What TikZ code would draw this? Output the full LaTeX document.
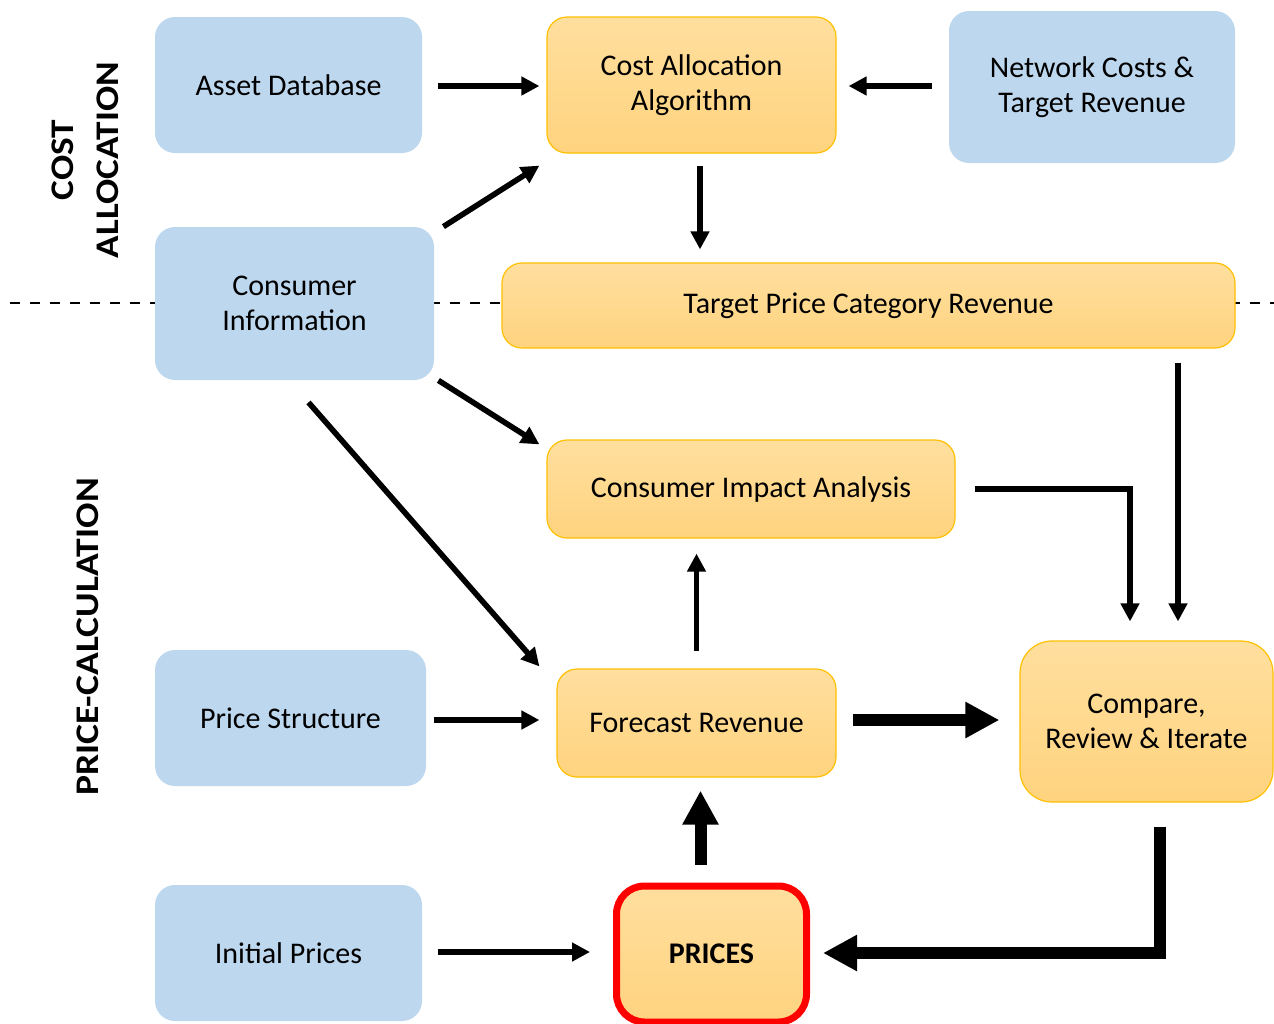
\documentclass[tikz,border=0pt]{standalone}
\usepackage{fontspec}
\setmainfont{Carlito}
\usetikzlibrary{arrows.meta,calc}
\definecolor{inputblue}{HTML}{BDD7EE}
\definecolor{proctop}{HTML}{FFDF9E}
\definecolor{procbottom}{HTML}{FFD37F}
\definecolor{procborder}{HTML}{FFC000}
\tikzset{%
        x = 0.5pt,
        y = -0.5pt,
        font = \fontsize{15}{17.5}\selectfont
}
\tikzstyle{inputbox}=[
    fill = inputblue,
    rounded corners = 10pt,
    align = center,
    inner sep = 0pt
]
\tikzstyle{processbox}=[
    draw = procborder,
    line width = 0.6pt,
    top color = proctop,
    bottom color = procbottom,
    rounded corners = 10pt,
    align = center,
    inner sep = 0pt
]
\tikzstyle{flow}=[
    -{Triangle[length=9pt,width=9pt]},
    line width = 2.8pt
]
\tikzstyle{heavyflow}=[
    -{Triangle[length=17pt,width=17pt]},
    line width = 6pt
]
\tikzstyle{sidelabel}=[
    rotate = 90,
    align = center,
    font = \fontsize{16.5}{22.5}\selectfont\bfseries
]

\begin{document}
\begin{tikzpicture}
            \useasboundingbox (0,0) rectangle (1274,1023);
            % border between the two stages
            \draw[line width=0.8pt, dash pattern=on 5pt off 5pt] (10,303) -- (1274,303);

            \node[sidelabel] (costlabel) at (85,160) {\scalebox{1.13}[1]{COST}\\\scalebox{1.13}[1]{ALLOCATION}};
            \node[sidelabel] (pricelabel) at (88,637) {\scalebox{1.14}[1]{PRICE-CALCULATION}};

            \node[inputbox, minimum width=133.5pt, minimum height=68pt] (asset) at (288.5,85) {Asset Database};
            \node[processbox, minimum width=144.5pt, minimum height=68pt] (costalg) at (691.5,85) {Cost Allocation\\Algorithm};
            \node[inputbox, minimum width=143pt, minimum height=76pt] (network) at (1092,87) {Network Costs \&\\Target Revenue};
            \node[inputbox, minimum width=139.5pt, minimum height=76.5pt] (consumer) at (294.5,303.5) {Consumer\\Information};
            \node[processbox, minimum width=366.5pt, minimum height=42.5pt] (target) at (868.5,305.5) {Target Price Category Revenue};
            \node[processbox, minimum width=204pt, minimum height=49pt] (impact) at (751,489) {Consumer Impact Analysis};
            \node[inputbox, minimum width=135.5pt, minimum height=68pt] (pricestr) at (290.5,718) {Price Structure};
            \node[processbox, minimum width=139.5pt, minimum height=54pt] (forecast) at (696.5,723) {Forecast Revenue};
            \node[processbox, minimum width=126.5pt, minimum height=80.5pt, rounded corners=16pt] (compare) at (1146.5,721.5) {Compare,\\Review \& Iterate};
            \node[inputbox, minimum width=133.5pt, minimum height=68pt] (initial) at (288.5,953) {Initial Prices};
            \node[processbox, draw=red, line width=3.5pt, minimum width=95pt, minimum height=68pt, rounded corners=14pt] (prices) at (711.5,954) {\bfseries PRICES};

            % cost allocation stage
            \draw[flow] ($(asset.east)+(16,1)$) -- ($(costalg.west)+(-7,1)$);
            \draw[flow] ($(network.west)+(-17,-1)$) -- ($(costalg.east)+(12,1)$);
            \draw[flow] ($(consumer.north east)+(9,0)$) -- ($(costalg.south west)+(-7,12)$);
            \draw[flow] ($(costalg.south)+(8.5,12)$) -- ($(costalg.south |- target.north)+(8.5,-13)$);

            % price calculation stage
            \draw[flow] ($(consumer.south east)+(4,0)$) -- ($(impact.north west)+(-7,5)$);
            \draw[flow] ($(consumer.south)+(14,22)$) -- ($(forecast.north west)+(-17,-2)$);
            \draw[flow] ($(forecast.north)+(0,-17)$) -- ($(forecast.north |- impact.south)+(0,15)$);
            \draw[flow] ($(pricestr.east)+(8,2)$) -- ($(forecast.west)+(-17,-3)$);
            \draw[flow] ($(impact.east)+(19,0)$) -| ($(compare.north)+(-16.5,-19)$);
            \draw[flow] ($(target.south -| compare.north)+(31.5,14)$) -- ($(compare.north)+(31.5,-19)$);
            \draw[flow] ($(initial.east)+(16,-1)$) -- ($(prices.west)+(-23,-2)$);

            \draw[heavyflow] ($(forecast.east)+(16,-3)$) -- ($(compare.west)+(-20,-1.5)$);
            \draw[heavyflow] ($(compare.south)+(13.5,24)$) |- ($(prices.east)+(13,-1)$);
            \draw[heavyflow] ($(prices.north)+(-11,-18)$) -- ($(prices.north |- forecast.south)+(-11,13)$);
        \end{tikzpicture}
\end{document}
